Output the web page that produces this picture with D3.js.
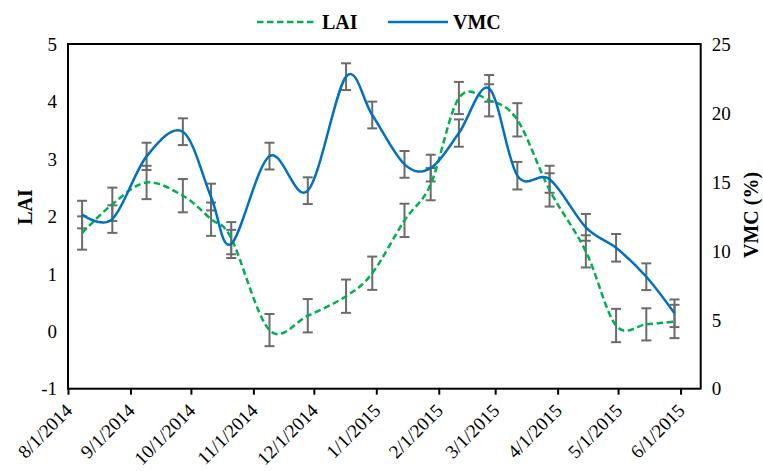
<!DOCTYPE html>
<html>
<head>
<meta charset="utf-8">
<script src="https://cdnjs.cloudflare.com/ajax/libs/d3/7.8.5/d3.min.js"></script>
<style>
  body { margin: 0; background: #fff; }
  #chart { width: 763px; height: 471px; }
</style>
</head>
<body>
<div id="chart"></div>
<script>
// sampling dates (same for both series)
const sample_dates = ['2014-08-08', '2014-08-23', '2014-09-09', '2014-09-27', '2014-10-11', '2014-10-21',
  '2014-11-09', '2014-11-28', '2014-12-17', '2014-12-30', '2015-01-15', '2015-01-28', '2015-02-11',
  '2015-02-26', '2015-03-12', '2015-03-28', '2015-04-15', '2015-04-30', '2015-05-15', '2015-05-29'];

// LAI series (left axis) and its error bars
const lai_values = [1.71, 2.21, 2.59, 2.36, 1.95, 1.62, 0.02, 0.27, 0.61, 1.01,
  1.93, 2.56, 4.06, 4.02, 3.68, 2.46, 1.39, 0.10, 0.12, 0.17];
const lai_errors = [0.29, 0.29, 0.29, 0.29, 0.29, 0.28, 0.28, 0.29, 0.29, 0.29,
  0.29, 0.28, 0.28, 0.28, 0.29, 0.29, 0.28, 0.29, 0.28, 0.29];

// VMC series (right axis, %) and its error bars
const vmc_values = [12.63, 12.3, 16.85, 18.64, 13.9, 10.5, 16.87, 14.36, 22.63, 19.85,
  16.27, 16.0, 18.54, 21.78, 15.45, 15.19, 11.7, 10.22, 8.12, 5.47];
const vmc_errors = [1.0, 1.0, 0.99, 0.97, 0.97, 1.02, 0.97, 0.97, 0.97, 0.97,
  0.97, 0.97, 0.99, 0.97, 1.0, 0.98, 0.97, 1.0, 0.97, 1.0];

// axis ticks
const x_tick_dates = ['2014-08-01', '2014-09-01', '2014-10-01', '2014-11-01', '2014-12-01', '2015-01-01',
  '2015-02-01', '2015-03-01', '2015-04-01', '2015-05-01', '2015-06-01'];
const lai_ticks = [-1, 0, 1, 2, 3, 4, 5];
const vmc_ticks = [0, 5, 10, 15, 20, 25];

const parseDate = d3.timeParse('%Y-%m-%d');
const fmtDate = d3.timeFormat('%-m/%-d/%Y');
const serif = '"Liberation Serif", "Times New Roman", serif';

// chart static params
const width_chart = 763, height_chart = 471;
const margin = {top: 44, right: 62.3, bottom: 82.3, left: 68};
const plot_w = width_chart - margin.left - margin.right,
      plot_h = height_chart - margin.top - margin.bottom;

const lai_color = '#00B050';
const vmc_color = '#0070C0';
const err_color = '#6b6b6b';

const svg = d3.select('#chart')
  .append('svg')
    .attr('width', width_chart)
    .attr('height', height_chart)
    .style('font-family', serif)
  .append('g')
    .attr('transform', `translate(${margin.left},${margin.top})`);

// scales
const x = d3.scaleTime()
  .domain([parseDate('2014-08-01'), parseDate('2015-06-11')])
  .range([0, plot_w]);
const yLai = d3.scaleLinear().domain([-1, 5]).range([plot_h, 0]);
const yVmc = d3.scaleLinear().domain([0, 25]).range([plot_h, 0]);

const rows = sample_dates.map((d, i) => ({
  date: parseDate(d),
  lai: lai_values[i], laiErr: lai_errors[i],
  vmc: vmc_values[i], vmcErr: vmc_errors[i]
}));

// small helper so every label gets the serif face
const styleTicks = (axisG) => {
  axisG.attr('font-family', null);
  axisG.selectAll('text')
    .style('font-family', serif)
    .style('font-size', '19px')
    .attr('fill', '#000');
};

// left axis
const leftAxis = svg.append('g')
  .call(d3.axisLeft(yLai).tickValues(lai_ticks).tickSize(0).tickPadding(11).tickFormat(d => String(d)));
leftAxis.select('.domain').remove();
styleTicks(leftAxis);
leftAxis.selectAll('text').attr('dy', '0.33em');

// right axis
const rightAxis = svg.append('g')
  .attr('transform', `translate(${plot_w},0)`)
  .call(d3.axisRight(yVmc).tickValues(vmc_ticks).tickSize(0).tickPadding(11).tickFormat(d => String(d)));
rightAxis.select('.domain').remove();
styleTicks(rightAxis);
rightAxis.selectAll('text').attr('dy', '0.33em');

// bottom axis, rotated date labels
const bottomAxis = svg.append('g')
  .attr('transform', `translate(0,${plot_h})`)
  .call(d3.axisBottom(x).tickValues(x_tick_dates.map(parseDate)).tickSize(6).tickFormat(fmtDate));
bottomAxis.select('.domain').remove();
bottomAxis.selectAll('.tick line').attr('stroke', '#000').attr('stroke-width', 2);
styleTicks(bottomAxis);
bottomAxis.selectAll('text')
  .attr('text-anchor', 'end')
  .attr('dy', null)
  .attr('y', 0)
  .attr('transform', 'translate(5,23) rotate(-45)');

// plot frame
svg.append('rect')
  .attr('width', plot_w)
  .attr('height', plot_h)
  .attr('fill', 'none')
  .attr('stroke', '#000')
  .attr('stroke-width', 2);

// error bars
const drawErrors = (key, errKey, scale) => {
  const g = svg.append('g').attr('stroke', err_color).attr('stroke-width', 2).attr('fill', 'none');
  rows.forEach(r => {
    const cx = x(r.date), y1 = scale(r[key] + r[errKey]), y0 = scale(r[key] - r[errKey]);
    g.append('line').attr('x1', cx).attr('x2', cx).attr('y1', y1).attr('y2', y0);
    g.append('line').attr('x1', cx - 5).attr('x2', cx + 5).attr('y1', y1).attr('y2', y1);
    g.append('line').attr('x1', cx - 5).attr('x2', cx + 5).attr('y1', y0).attr('y2', y0);
  });
};
drawErrors('vmc', 'vmcErr', yVmc);
drawErrors('lai', 'laiErr', yLai);

// smoothed lines
const laiLine = d3.line().x(d => x(d.date)).y(d => yLai(d.lai)).curve(d3.curveCardinal.tension(0));
const vmcLine = d3.line().x(d => x(d.date)).y(d => yVmc(d.vmc)).curve(d3.curveCardinal.tension(0));

svg.append('path')
  .datum(rows)
  .attr('d', laiLine)
  .attr('fill', 'none')
  .attr('stroke', lai_color)
  .attr('stroke-width', 2.5)
  .attr('stroke-dasharray', '6.5,3.5');

svg.append('path')
  .datum(rows)
  .attr('d', vmcLine)
  .attr('fill', 'none')
  .attr('stroke', vmc_color)
  .attr('stroke-width', 2.5);

// axis titles
svg.append('text')
  .attr('text-anchor', 'middle')
  .attr('transform', `translate(${32 - margin.left},${207 - margin.top}) rotate(-90)`)
  .style('font-family', serif)
  .style('font-size', '20px')
  .style('font-weight', 'bold')
  .text('LAI');

svg.append('text')
  .attr('text-anchor', 'middle')
  .attr('transform', `translate(${758 - margin.left},${215 - margin.top}) rotate(-90)`)
  .style('font-family', serif)
  .style('font-size', '20px')
  .style('font-weight', 'bold')
  .text('VMC (%)');

// legend
const legend = svg.append('g').attr('transform', `translate(0,${-margin.top})`);
legend.append('line')
  .attr('x1', 257 - margin.left).attr('x2', 315 - margin.left).attr('y1', 22).attr('y2', 22)
  .attr('stroke', lai_color).attr('stroke-width', 2.5).attr('stroke-dasharray', '6.5,3.5');
legend.append('text')
  .attr('x', 322 - margin.left).attr('y', 29)
  .style('font-family', serif)
  .style('font-size', '20px').style('font-weight', 'bold')
  .text('LAI');
legend.append('line')
  .attr('x1', 388 - margin.left).attr('x2', 448 - margin.left).attr('y1', 22).attr('y2', 22)
  .attr('stroke', vmc_color).attr('stroke-width', 2.5);
legend.append('text')
  .attr('x', 453 - margin.left).attr('y', 29)
  .style('font-family', serif)
  .style('font-size', '20px').style('font-weight', 'bold')
  .text('VMC');
</script>
</body>
</html>
